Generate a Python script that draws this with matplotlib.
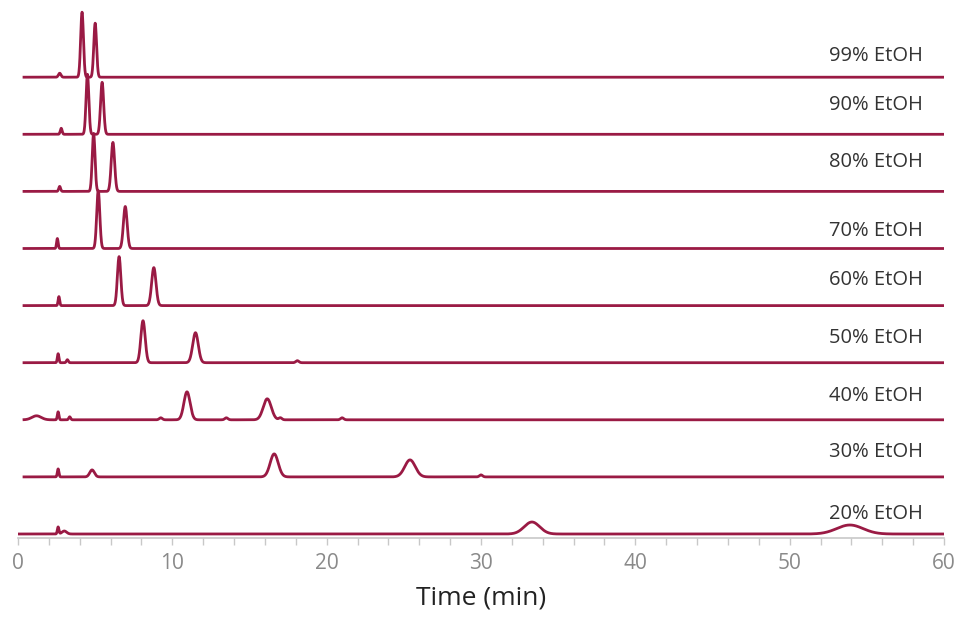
import numpy as np
import matplotlib.pyplot as plt

# chromatograms at different ethanol fractions (top to bottom)
labels = ['99% EtOH', '90% EtOH', '80% EtOH', '70% EtOH', '60% EtOH',
          '50% EtOH', '40% EtOH', '30% EtOH', '20% EtOH']

# peak tables: retention time [min], height, width (sigma) [min]
rt = [
    [2.7, 4.15, 5.0],
    [2.8, 4.5, 5.45],
    [2.7, 4.9, 6.15],
    [2.55, 5.2, 6.95],
    [2.65, 6.55, 8.8],
    [2.6, 3.2, 8.1, 11.5, 18.1],
    [1.2, 2.6, 3.35, 9.25, 10.95, 13.5, 16.15, 17.0, 21.0],
    [2.6, 4.8, 16.6, 25.4, 30.0],
    [2.6, 3.0, 33.3, 53.9],
]
height = [
    [4, 65, 54],
    [6, 60, 52],
    [5, 58, 49],
    [10, 58, 42],
    [9, 49, 38],
    [9, 3, 42, 30, 2],
    [4, 8, 3, 2, 28, 2, 21, 2, 2],
    [8, 7, 23, 17, 2],
    [7, 3, 12, 9],
]
width = [
    [0.08, 0.09, 0.09],
    [0.06, 0.09, 0.1],
    [0.06, 0.09, 0.11],
    [0.05, 0.1, 0.12],
    [0.05, 0.11, 0.14],
    [0.05, 0.06, 0.14, 0.18, 0.1],
    [0.3, 0.05, 0.06, 0.1, 0.2, 0.1, 0.26, 0.1, 0.1],
    [0.05, 0.15, 0.26, 0.34, 0.1],
    [0.05, 0.15, 0.5, 0.85],
]
t_start = [0.3, 0.3, 0.3, 0.3, 0.3, 0.3, 0.3, 0.3, 0.0]
t_end = 60
spacing = 57.1
base = 4

# gap between each trace and its label (layout)
label_dy = [16, 24, 24, 13, 21, 20, 19, 20, 15]

color = '#9a1a44'
t = np.linspace(0, t_end, 6001)

fig = plt.figure(figsize=(9.63, 6.21), dpi=100)
ax = fig.add_axes([18/963, 83/621, 926/963, 538/621])

n = len(labels)
for i in range(n):
    off = base + (n - 1 - i)*spacing
    tt = t[t >= t_start[i]]
    y = np.zeros_like(tt)
    for r, h, w in zip(rt[i], height[i], width[i]):
        y += h*np.exp(-0.5*((tt - r)/w)**2)
    ax.plot(tt, y + off, color=color, lw=2.0, solid_capstyle='butt')
    ax.text(58.65, off + label_dy[i], labels[i], ha='right', va='baseline',
            fontsize=14.5, family='Open Sans', color='#333333')

ax.set_xlim(0, 60)
ax.set_ylim(0, 538)
for s in ['left', 'right', 'top']:
    ax.spines[s].set_visible(False)
ax.spines['bottom'].set_color('#c8c8c8')
ax.spines['bottom'].set_linewidth(1.2)
ax.set_yticks([])
ax.set_xticks(np.arange(0, 61, 10))
ax.set_xticks(np.arange(0, 61, 2), minor=True)
ax.tick_params(axis='x', which='both', colors='#c8c8c8', length=5, width=1)
ax.tick_params(axis='x', which='major', labelcolor='#8a8a8a', labelsize=15, pad=6)
for lab in ax.get_xticklabels():
    lab.set_family('Open Sans')
ax.set_xlabel('Time (min)', fontsize=19, family='Open Sans', color='#222222', labelpad=8)

fig.savefig('out.png', dpi=100)
